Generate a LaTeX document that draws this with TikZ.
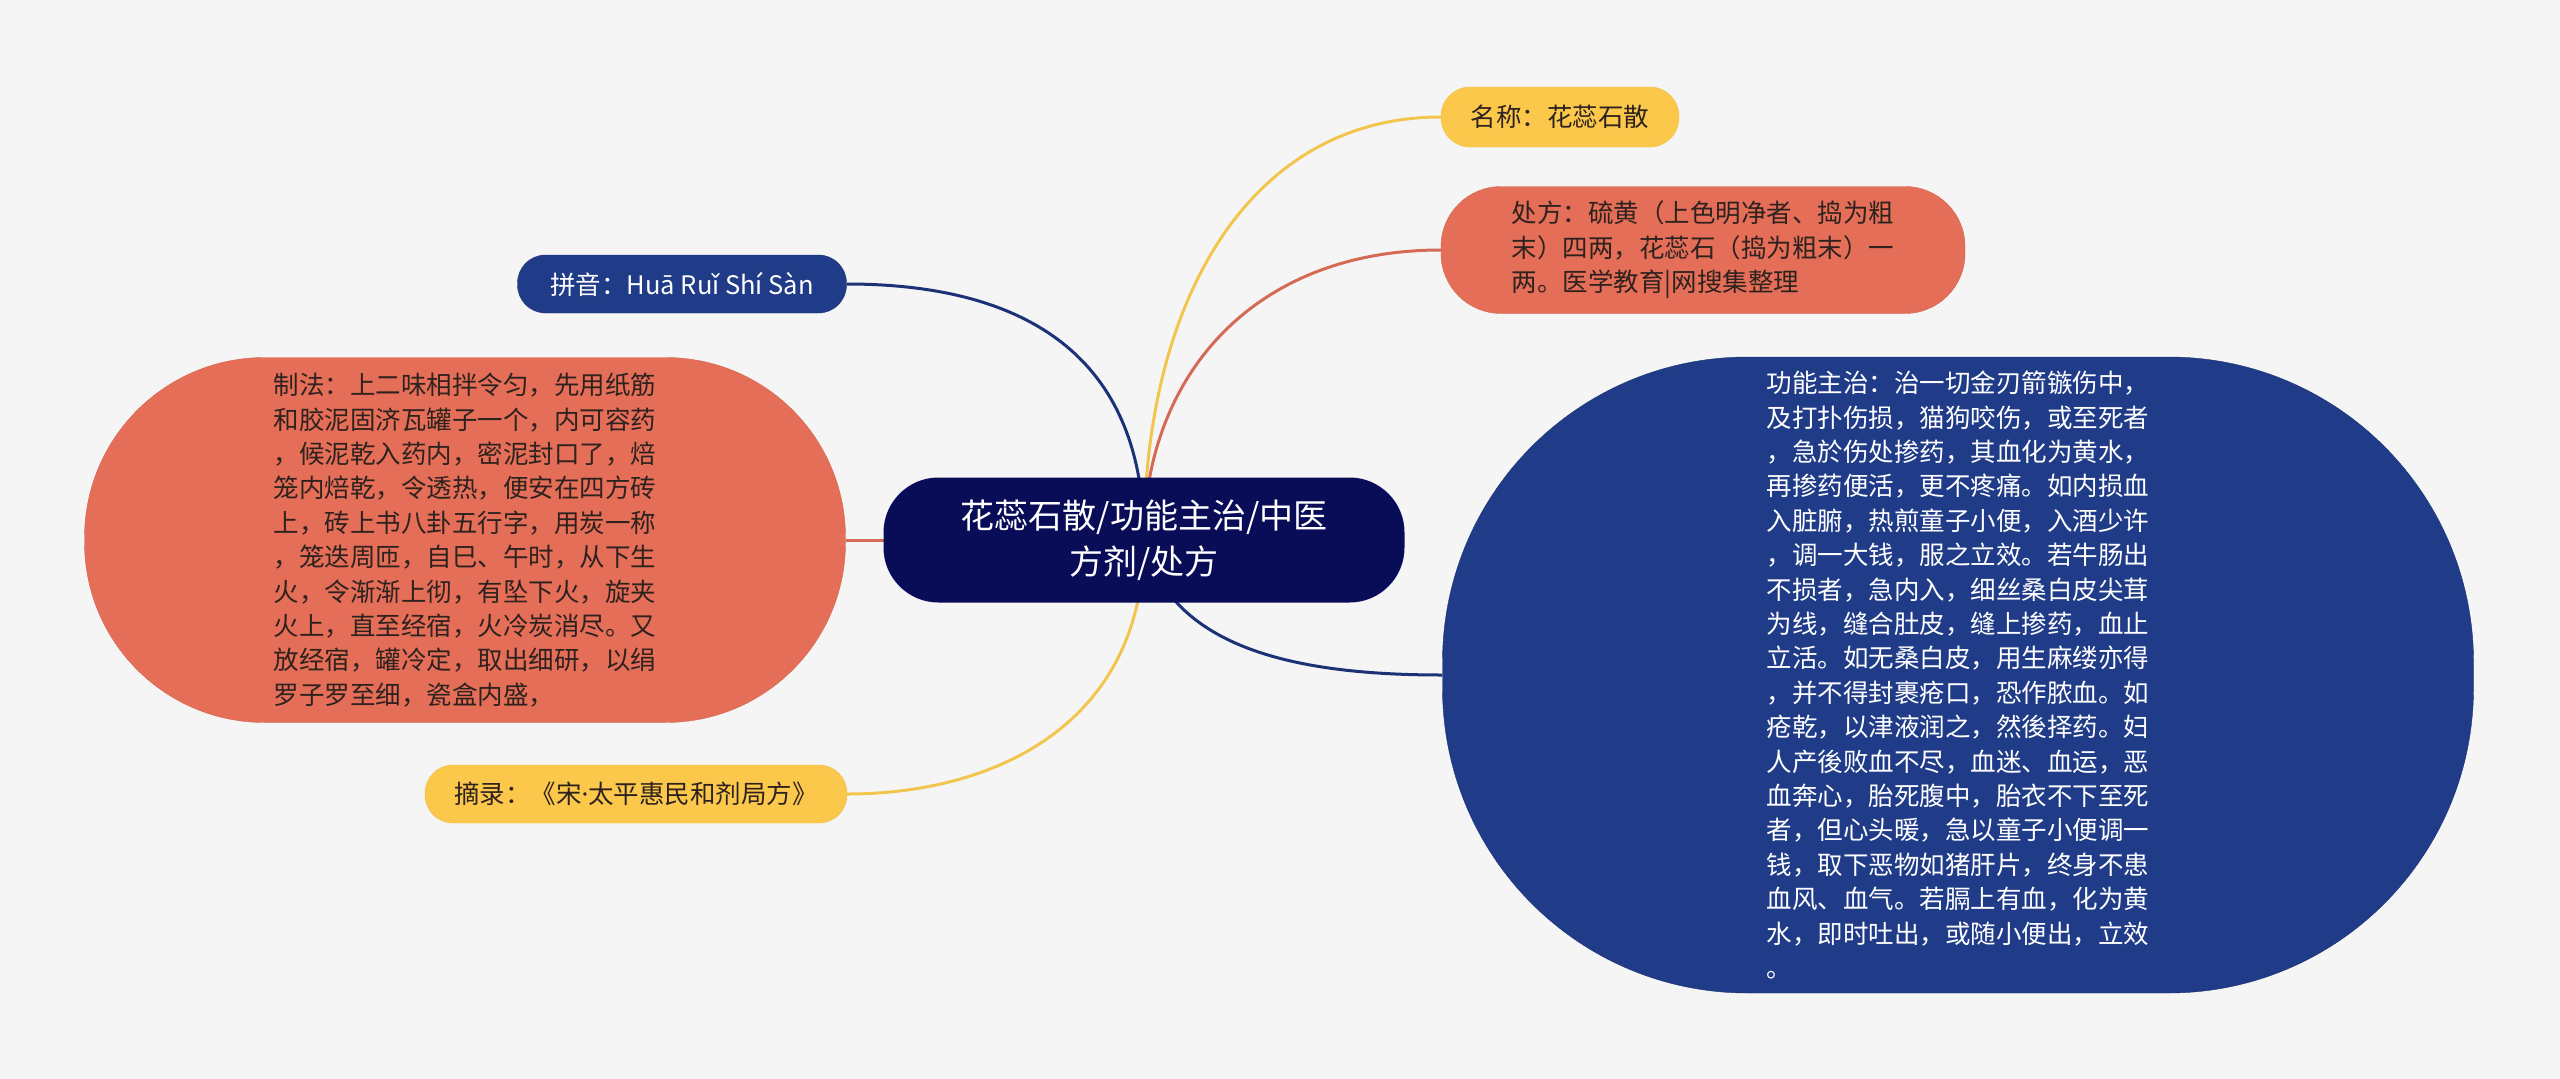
\documentclass[tikz,border=0pt]{standalone}
\usepackage{fontspec}
\setmainfont{Noto Sans CJK SC}
\newfontfamily\latinfont{Noto Sans}
\usepackage{tikz}
\usetikzlibrary{backgrounds}
\definecolor{canvas}{HTML}{F5F5F5}
\definecolor{rootblue}{HTML}{090D58}
\definecolor{deepblue}{HTML}{203C88}
\definecolor{salmon}{HTML}{E56E58}
\definecolor{amber}{HTML}{FBC84B}
\definecolor{inkdark}{HTML}{2E221E}
\definecolor{linkblue}{HTML}{1B3277}
\definecolor{linkred}{HTML}{D56A55}
\definecolor{linkamber}{HTML}{F2C64E}

\begin{document}
\begin{tikzpicture}[
    x=1pt, y=-1pt,
    leaf/.style={rectangle,inner sep=0pt,align=left,
      font=\fontsize{25.5}{34.4}\selectfont},
    bluebox/.style={leaf,fill=deepblue,draw=deepblue!85!black,text=white},
    redbox/.style={leaf,fill=salmon,draw=salmon!92!black,text=inkdark},
    ambbox/.style={leaf,fill=amber,draw=amber!95!black,text=inkdark},
    hub/.style={rectangle,inner sep=0pt,fill=rootblue,text=white,align=center,
      font=\fontsize{34}{46}\selectfont},
    link/.style={line width=3pt}
  ]
    \useasboundingbox (0,0) rectangle (2560,1079);

    \node[hub,minimum width=521,minimum height=125,rounded corners=55] (root) at (1144,540)
      {花蕊石散/功能主治/中医\\方剂/处方};

    \node[ambbox,minimum width=238,minimum height=60,rounded corners=29] (name) at (1560,117)
      {名称：花蕊石散};
    \node[redbox,minimum width=524,minimum height=127,rounded corners=60] (recipe) at (1703,250)
      {处方：硫黄（上色明净者、捣为粗\\末）四两，花蕊石（捣为粗末）一\\两。医学教育|网搜集整理};
    \node[bluebox,minimum width=329,minimum height=58,rounded corners=28] (pinyin) at (682,284)
      {拼音：Huā Ruǐ Shí Sàn};
    \node[redbox,minimum width=761,minimum height=365,rounded corners=180] (method) at (465,540)
      {制法：上二味相拌令匀，先用纸筋\\和胶泥固济瓦罐子一个，内可容药\\，候泥乾入药内，密泥封口了，焙\\笼内焙乾，令透热，便安在四方砖\\上，砖上书八卦五行字，用炭一称\\，笼迭周匝，自巳、午时，从下生\\火，令渐渐上彻，有坠下火，旋夹\\火上，直至经宿，火冷炭消尽。又\\放经宿，罐冷定，取出细研，以绢\\罗子罗至细，瓷盒内盛，};
    \node[ambbox,minimum width=422,minimum height=58,rounded corners=28] (source) at (636,794)
      {摘录：《宋{\latinfont ·}太平惠民和剂局方》};
    \node[bluebox,minimum width=1031,minimum height=636,rounded corners=305] (usage) at (1958,675)
      {功能主治：治一切金刃箭镞伤中，\\及打扑伤损，猫狗咬伤，或至死者\\，急於伤处掺药，其血化为黄水，\\再掺药便活，更不疼痛。如内损血\\入脏腑，热煎童子小便，入酒少许\\，调一大钱，服之立效。若牛肠出\\不损者，急内入，细丝桑白皮尖茸\\为线，缝合肚皮，缝上掺药，血止\\立活。如无桑白皮，用生麻缕亦得\\，并不得封裹疮口，恐作脓血。如\\疮乾，以津液润之，然後择药。妇\\人产後败血不尽，血迷、血运，恶\\血奔心，胎死腹中，胎衣不下至死\\者，但心头暖，急以童子小便调一\\钱，取下恶物如猪肝片，终身不患\\血风、血气。若膈上有血，化为黄\\水，即时吐出，或随小便出，立效\\。};

    \begin{scope}[on background layer]
      \fill[canvas] (0,0) rectangle (2560,1079);
      \draw[link,linkamber] (root.center) .. controls +(0,-240) and +(-191,0) .. (name.west);
      \draw[link,linkred]   (root.center) .. controls +(0,-160) and +(-191,0) .. (recipe.west);
      \draw[link,linkblue]  (root.center) .. controls +(0,-210) and +(143,0)  .. (pinyin.east);
      \draw[link,linkred]   (root.center) -- (method.east);
      \draw[link,linkamber] (root.center) .. controls +(0,180)  and +(153,0)  .. (source.east);
      \draw[link,linkblue]  (root.center) .. controls +(26,110) and +(-143,0) .. (usage.west);
    \end{scope}
  \end{tikzpicture}
\end{document}
